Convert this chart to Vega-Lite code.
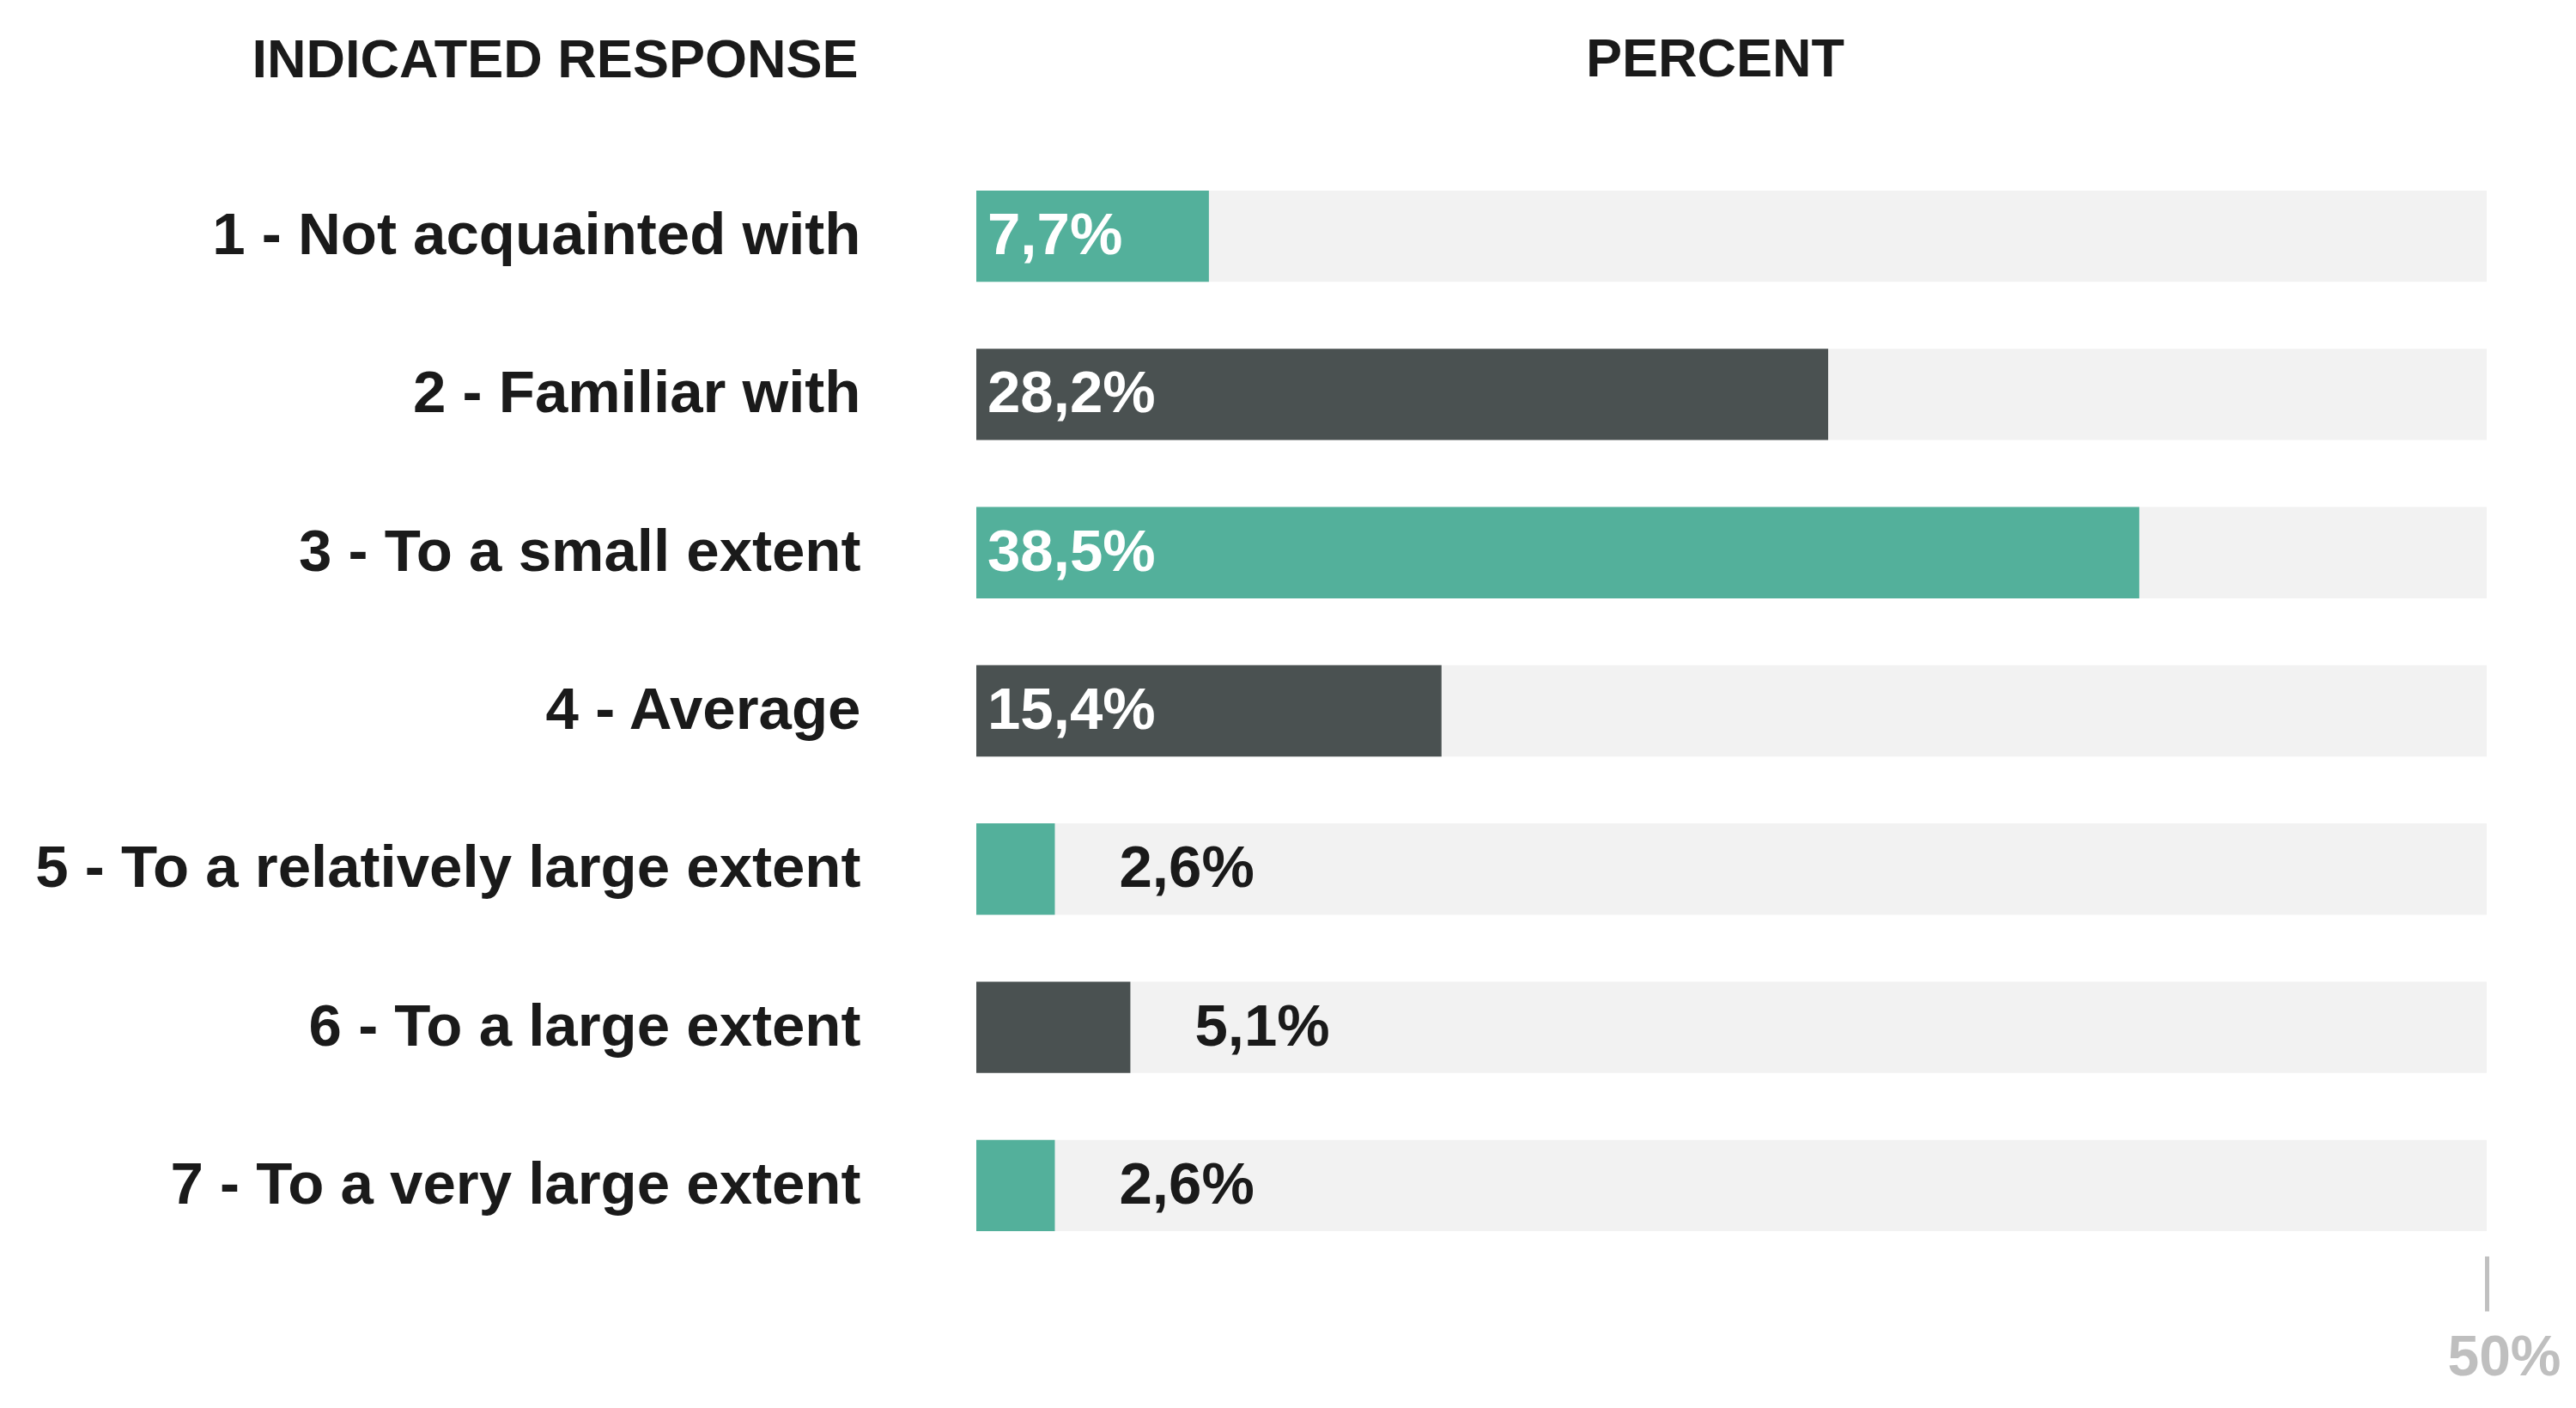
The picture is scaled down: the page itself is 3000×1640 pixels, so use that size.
{
  "$schema": "https://vega.github.io/schema/vega-lite/v6.json",
  "width": 1759,
  "height": 1290,
  "autosize": {"type": "none"},
  "padding": {"left": 1137, "top": 183, "right": 104, "bottom": 167},
  "background": "white",
  "config": {
    "view": {"stroke": null},
    "font": "Liberation Sans",
    "locale": {"number": {"decimal": ",", "thousands": ".", "grouping": [3], "currency": ["", " €"]}}
  },
  "data": {
    "values": [
      {"response": "1 - Not acquainted with", "share": 0.077},
      {"response": "2 - Familiar with", "share": 0.282},
      {"response": "3 - To a small extent", "share": 0.385},
      {"response": "4 - Average", "share": 0.154},
      {"response": "5 - To a relatively large extent", "share": 0.026},
      {"response": "6 - To a large extent", "share": 0.051},
      {"response": "7 - To a very large extent", "share": 0.026}
    ]
  },
  "encoding": {
    "y": {
      "field": "response",
      "type": "nominal",
      "sort": null,
      "scale": {"paddingInner": 0.423, "paddingOuter": 0.2115},
      "axis": {
        "title": "INDICATED RESPONSE",
        "titleAngle": 0,
        "titleX": -491,
        "titleY": -113,
        "titleAlign": "center",
        "titleBaseline": "middle",
        "titleFontSize": 63,
        "titleFontWeight": "bold",
        "titleColor": "#1a1a1a",
        "labelFontSize": 69,
        "labelFontWeight": "bold",
        "labelColor": "#1a1a1a",
        "labelPadding": 135,
        "labelLimit": 0,
        "ticks": false,
        "tickSize": 0,
        "domain": false,
        "grid": false
      }
    }
  },
  "layer": [
    {
      "mark": {"type": "bar", "color": "#f2f2f2"},
      "encoding": {
        "x": {
          "datum": 0.5,
          "type": "quantitative",
          "scale": {"domain": [0, 0.5], "nice": false},
          "axis": {
            "values": [0.5],
            "format": ".0%",
            "title": "PERCENT",
            "titleX": 860,
            "titleY": -1394,
            "titleAlign": "center",
            "titleBaseline": "middle",
            "titleFontSize": 63,
            "titleFontWeight": "bold",
            "titleColor": "#1a1a1a",
            "domain": false,
            "grid": false,
            "tickColor": "#c0c0c0",
            "tickSize": 64,
            "tickWidth": 5,
            "offset": -10,
            "labelFontSize": 66,
            "labelFontWeight": "bold",
            "labelColor": "#bfbfbf",
            "labelPadding": 22,
            "labelOffset": 20,
            "labelFlush": false
          }
        }
      }
    },
    {
      "mark": {"type": "bar"},
      "encoding": {
        "x": {
          "field": "share",
          "type": "quantitative",
          "stack": null,
          "scale": {"domain": [0, 0.5], "nice": false},
          "axis": {
            "values": [0.5],
            "format": ".0%",
            "title": "PERCENT",
            "titleX": 860,
            "titleY": -1394,
            "titleAlign": "center",
            "titleBaseline": "middle",
            "titleFontSize": 63,
            "titleFontWeight": "bold",
            "titleColor": "#1a1a1a",
            "domain": false,
            "grid": false,
            "tickColor": "#c0c0c0",
            "tickSize": 64,
            "tickWidth": 5,
            "offset": -10,
            "labelFontSize": 66,
            "labelFontWeight": "bold",
            "labelColor": "#bfbfbf",
            "labelPadding": 22,
            "labelOffset": 20,
            "labelFlush": false
          }
        },
        "color": {
          "field": "response",
          "type": "nominal",
          "sort": null,
          "scale": {
            "domain": ["1 - Not acquainted with", "2 - Familiar with", "3 - To a small extent", "4 - Average", "5 - To a relatively large extent", "6 - To a large extent", "7 - To a very large extent"],
            "range": ["#53b09b", "#4a5151", "#53b09b", "#4a5151", "#53b09b", "#4a5151", "#53b09b"]
          },
          "legend": null
        }
      }
    },
    {
      "transform": [{"filter": "datum.share >= 0.07"}],
      "mark": {"type": "text", "align": "left", "baseline": "middle", "dx": 13, "color": "white", "fontWeight": "bold", "fontSize": 69},
      "encoding": {
        "x": {"datum": 0, "type": "quantitative"},
        "text": {"field": "share", "type": "quantitative", "format": ".1%"}
      }
    },
    {
      "transform": [{"filter": "datum.share < 0.07"}],
      "mark": {"type": "text", "align": "left", "baseline": "middle", "dx": 75, "color": "#1a1a1a", "fontWeight": "bold", "fontSize": 69},
      "encoding": {
        "x": {"field": "share", "type": "quantitative"},
        "text": {"field": "share", "type": "quantitative", "format": ".1%"}
      }
    }
  ]
}
